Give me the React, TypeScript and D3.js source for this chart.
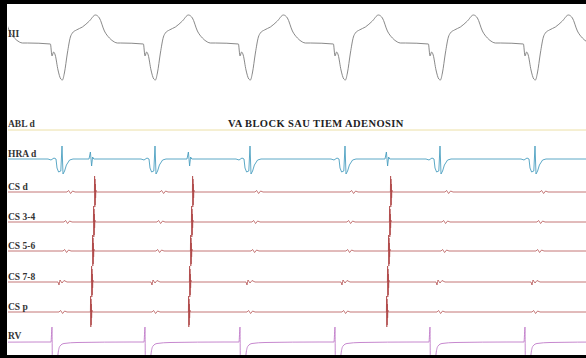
import React from "react";
import * as d3 from "d3";

const W = 586;
const H = 358;

// channel labels, top to bottom
const channels = ["III", "ABL d", "HRA d", "CS d", "CS 3-4", "CS 5-6", "CS 7-8", "CS p", "RV"];
const title = "VA BLOCK SAU TIEM ADENOSIN";

// RV pacing spikes, ms from the left edge of the strip
const paceTimes = [-255, 220, 685, 1160, 1635, 2110, 2585, 3060];
// retrograde atrial activation seen on CS d (ms); the other paced beats are blocked
const atrialTimes = [435, 925, 1915];

// delay from pacing spike to the QRS nadir on lead III (ms)
const qrsDelay = 52;

// wave templates: [ms offset, amplitude]
const leadIII: [number, number][] = [
  [-175, 0], [-60, -1], [-52, -13], [-44, -9], [-36, -12], [-22, -27], [-8, -36], [0, -37],
  [10, -30], [25, -10], [40, 6], [50, 10], [70, 13], [100, 16], [135, 22], [165, 28],
  [185, 25], [210, 12], [235, 5], [260, 1], [275, 0],
];
const hraVentricular: [number, number][] = [
  [-20, 0], [-5, -1], [10, 1], [20, 0], [25, -9], [33, -13], [44, -12], [50, 13],
  [55, -15], [63, -12], [72, -6], [88, -1], [105, 0],
];
const hraAtrial: [number, number][] = [[-30, 0], [-23, 7], [-17, -7], [-12, 2], [-6, 0]];
const csAtrial: [number, number][] = [
  [-3, 0], [-2, 16], [-1, -15], [0, 13], [1, -13], [2, 8], [3, -6], [4.5, 2], [6, 0],
];
const csFarField: [number, number][] = [[0, 0], [8, 1.5], [18, -1.5], [28, 1], [40, 0]];
const cs78FarField: [number, number][] = [[0, 0], [5, -3], [10, 2], [20, -1], [30, 1.5], [45, 0]];
const rvPaced: [number, number][] = [
  [-5, 0], [0, 15], [2, -25], [25, -25], [30, -12], [40, -4], [60, -1.5], [125, -0.5], [400, 0],
];

// CS bipoles: atrial delay vs CS d and far-field ventricular delay vs pacing (ms)
const csAtrialDelay = [0, -5, -10, -15, -20];
const csFarDelay = [75, 60, 55, 30, 35];

export default function App() {
  const x = d3.scaleLinear().domain([0, 2890]).range([8, W]);
  const tStart = -400;
  const tEnd = 3300;

  // baseline of each row, in px
  const rowY = [43, 130, 159, 192, 222, 251, 282, 312, 342];
  const labelY = [37, 127, 157, 190, 220, 249, 280, 310, 339];
  const colors = ["#7c7c7c", "#ece0a6", "#4a9ec0", "#b04a4a", "#b04a4a", "#b04a4a", "#b04a4a", "#b04a4a", "#c07ac8"];

  function build(events: [number, [number, number][]][]) {
    const pts: [number, number][] = [[tStart, 0], [tEnd, 0]];
    events.forEach(([t0, tpl]) => tpl.forEach(([dt, v]) => pts.push([t0 + dt, v])));
    pts.sort((a, b) => a[0] - b[0]);
    return pts.filter((p, i) => i === 0 || p[0] > pts[i - 1][0]);
  }

  const series: [number, number][][] = [
    build(paceTimes.map((t) => [t + qrsDelay, leadIII])),
    build([]),
    build([
      ...paceTimes.map((t) => [t, hraVentricular] as [number, [number, number][]]),
      ...atrialTimes.map((t) => [t, hraAtrial] as [number, [number, number][]]),
    ]),
    ...csAtrialDelay.map((d, i) =>
      build([
        ...atrialTimes.map((t) => [t + d, csAtrial] as [number, [number, number][]]),
        ...paceTimes.map((t) => [t + csFarDelay[i], i === 3 ? cs78FarField : csFarField] as [number, [number, number][]]),
      ])
    ),
    build(paceTimes.map((t) => [t, rvPaced])),
  ];

  const paths = series.map((pts, i) => {
    const y = d3.scaleLinear().domain([0, 1]).range([rowY[i], rowY[i] - 1]);
    const line = d3
      .line<[number, number]>()
      .x((d) => x(d[0]))
      .y((d) => y(d[1]))
      .curve(i === 0 || i === 8 ? d3.curveMonotoneX : d3.curveLinear);
    return line(pts) as string;
  });

  const font = "'Liberation Serif', 'Times New Roman', serif";

  return (
    <svg width={W} height={H} style={{ position: "absolute", left: 0, top: 0, background: "#fff" }}>
      <defs>
        <clipPath id="plot">
          <rect x={8} y={4} width={W - 8} height={351} />
        </clipPath>
      </defs>
      <g clipPath="url(#plot)">
        {paths.map((p, i) => (
          <path key={channels[i]} d={p} fill="none" stroke={colors[i]}
            strokeWidth={i === 1 ? 1 : i >= 3 && i <= 7 ? 0.75 : 0.9} strokeLinejoin="round" />
        ))}
      </g>
      {channels.map((c, i) => (
        <text key={c} x={8} y={labelY[i]} fontFamily={font} fontWeight="bold" fontSize={9.5} fill="#333">
          {c}
        </text>
      ))}
      <text x={228} y={127} fontFamily={font} fontWeight="bold" fontSize={10.5} letterSpacing={0.4} fill="#222">
        {title}
      </text>
      <rect x={0} y={0} width={W} height={4} fill="#000" />
      <rect x={0} y={0} width={7} height={H} fill="#000" />
      <rect x={0} y={355} width={W} height={3} fill="#000" />
    </svg>
  );
}
